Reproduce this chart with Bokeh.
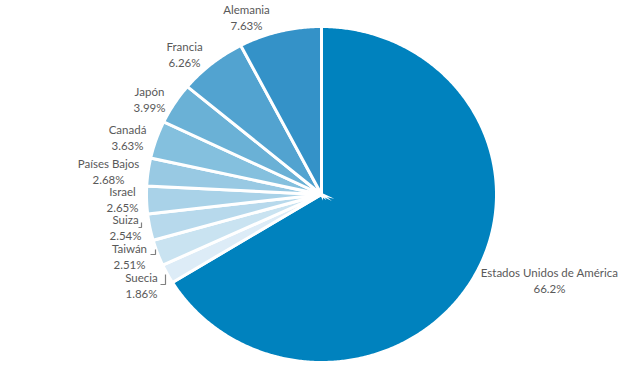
import numpy as np
from bokeh.plotting import figure
from bokeh.models import Range1d, ColumnDataSource
from bokeh.core.properties import value
from bokeh.embed import file_html
from bokeh.resources import INLINE

# ---- data (clockwise from 12 o'clock) ----
countries = ["Estados Unidos de América", "Suecia", "Taiwán", "Suiza", "Israel",
             "Países Bajos", "Canadá", "Japón", "Francia", "Alemania"]
shares = [66.2, 1.86, 2.51, 2.54, 2.65, 2.68, 3.63, 3.99, 6.26, 7.63]
share_labels = ["66.2%", "1.86%", "2.51%", "2.54%", "2.65%", "2.68%",
                "3.63%", "3.99%", "6.26%", "7.63%"]

# ---- style / layout ----
colors = ["#0082BE", "#DDECF7", "#C9E3F1", "#B7D9EC", "#A9D2E8",
          "#98C9E3", "#84C0DE", "#6AB1D6", "#52A3D0", "#3492C8"]
W, H = 640, 368
CX, CY = 321, 194              # pie centre in frame pixels
RX, RY = 175, 168              # pie radii in pixels (slightly elliptical)
# label block centres, pixel offsets from the pie centre
label_off = [(228, 86), (-180, 91), (-192, 62), (-196, 33), (-199, 5),
             (-213, -23), (-194, -57), (-172, -95), (-137, -140), (-75, -177)]
# small leader brackets (pixel offsets from pie centre)
leaders = [[(-156, 80), (-156, 90), (-161, 90)],
           [(-166, 55), (-166, 60), (-171, 60)],
           [(-180, 28), (-180, 33), (-183, 33)]]

p = figure(width=W, height=H, output_backend="svg", toolbar_location=None,
           x_range=Range1d(-CX / RX, (W - CX) / RX),
           y_range=Range1d(-(H - CY) / RY, CY / RY),
           min_border=0, outline_line_color=None, background_fill_color="white",
           border_fill_color="white")
p.axis.visible = False
p.grid.visible = False

vals = np.array(shares, dtype=float)
frac = vals / vals.sum()
ends = np.cumsum(frac) * 2 * np.pi
starts = ends - frac * 2 * np.pi

xs, ys = [], []
for a0, a1 in zip(starts, ends):
    n = max(8, int((a1 - a0) / (2 * np.pi) * 720))
    t = np.linspace(a0, a1, n)
    xs.append(np.concatenate([[0.0], np.sin(t), [0.0]]))
    ys.append(np.concatenate([[0.0], np.cos(t), [0.0]]))

src = ColumnDataSource(dict(xs=xs, ys=ys, color=colors))
p.patches("xs", "ys", source=src, fill_color="color", line_color="white",
          line_width=3, line_join="miter")

lx = [dx / RX for dx, dy in label_off]
ly = [-dy / RY for dx, dy in label_off]
texts = [f"{c}\n{s}" for c, s in zip(countries, share_labels)]
p.text(x=lx, y=ly, text=texts, text_font=value("Lato"), text_font_size="11.5px",
       text_color="#595959", text_align="center", text_baseline="middle",
       text_line_height=1.25)

mx = [[q[0] / RX for q in pts] for pts in leaders]
my = [[-q[1] / RY for q in pts] for pts in leaders]
p.multi_line(mx, my, line_color="#808080", line_width=1.2)

open("out.html", "w").write(file_html(p, INLINE))
